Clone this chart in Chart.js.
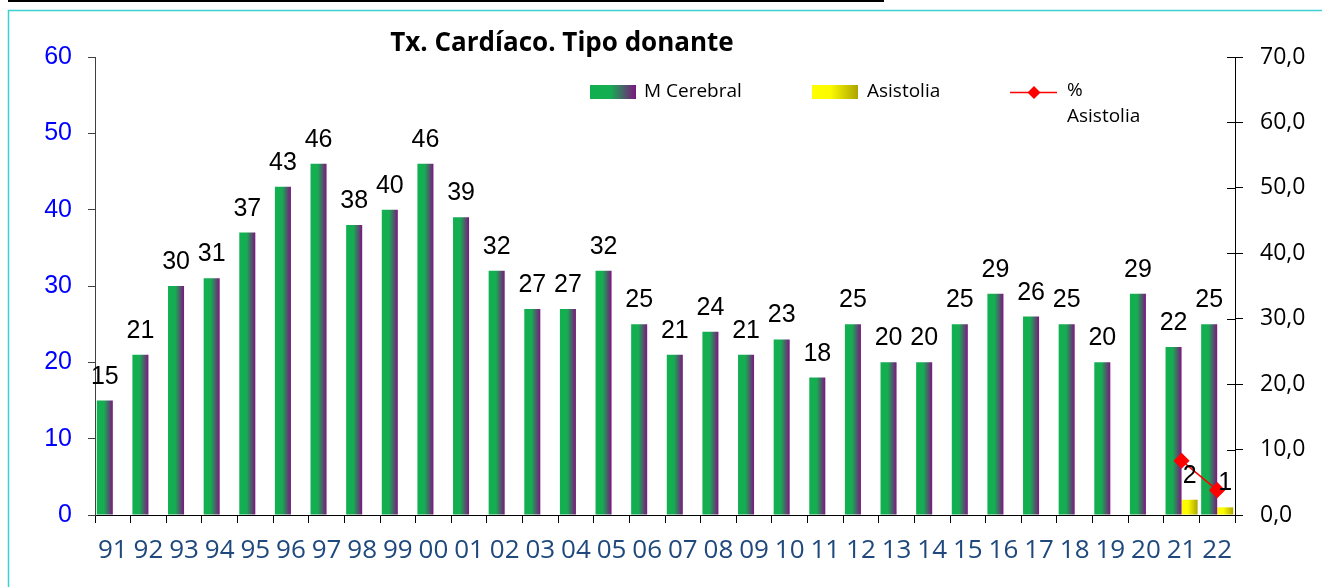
<!DOCTYPE html>
<html>
<head>
<meta charset="utf-8">
<script src="https://cdn.jsdelivr.net/npm/chart.js@4/dist/chart.umd.min.js"></script>
<style>
html,body{margin:0;padding:0;background:#fff;}
#wrap{width:1322px;height:587px;position:relative;}
</style>
</head>
<body>
<div id="wrap"><canvas id="c" width="1322" height="587"></canvas></div>
<script>
const years = ['91','92','93','94','95','96','97','98','99','00','01','02','03','04','05','06','07','08','09','10','11','12','13','14','15','16','17','18','19','20','21','22'];
const mCerebral = [15,21,30,31,37,43,46,38,40,46,39,32,27,27,32,25,21,24,21,23,18,25,20,20,25,29,26,25,20,29,22,25];
const asistolia = [null,null,null,null,null,null,null,null,null,null,null,null,null,null,null,null,null,null,null,null,null,null,null,null,null,null,null,null,null,null,2,1];
const pctAsistolia = [null,null,null,null,null,null,null,null,null,null,null,null,null,null,null,null,null,null,null,null,null,null,null,null,null,null,null,null,null,null,8.3,3.8];
const leftTicks = [0,10,20,30,40,50,60];
const rightTicks = [0,10,20,30,40,50,60,70];
const titleText = 'Tx. Cardíaco. Tipo donante';
const legendLabels = ['M Cerebral','Asistolia','%','Asistolia'];

const CAT_PCT = 0.9;
function barGradient(ctx, which, stops){
  const chart = ctx.chart;
  const xs = chart.scales.x;
  if (!xs || !chart.chartArea) return stops[0][1];
  const catW = xs.width / years.length;
  const c = xs.getPixelForValue(ctx.dataIndex);
  const half = catW * CAT_PCT / 2;
  const left = which === 0 ? c - half : c;
  const right = which === 0 ? c : c + half;
  const g = chart.ctx.createLinearGradient(left, 0, right, 0);
  stops.forEach(s => g.addColorStop(s[0], s[1]));
  return g;
}
const greenStops = [[0,'#10B050'],[0.45,'#16AD52'],[1,'#7D1580']];
const yellowStops = [[0,'#FFFF00'],[0.4,'#FCFA00'],[1,'#ADA400']];

const decorPlugin = {
  id: 'decor',
  beforeDraw(chart){
    const ctx = chart.ctx;
    ctx.save();
    ctx.fillStyle = '#fff';
    ctx.fillRect(0,0,chart.width,chart.height);
    ctx.strokeStyle = '#3DD0D0';
    ctx.lineWidth = 1.5;
    ctx.beginPath();
    ctx.moveTo(8.5, chart.height);
    ctx.lineTo(8.5, 10.5);
    ctx.lineTo(chart.width, 10.5);
    ctx.stroke();
    ctx.strokeStyle = '#000';
    ctx.lineWidth = 2;
    ctx.beginPath();
    ctx.moveTo(8, 1);
    ctx.lineTo(884, 1);
    ctx.stroke();
    ctx.restore();
  },
  afterDatasetsDraw(chart){
    const ctx = chart.ctx;
    ctx.save();
    // data labels
    ctx.fillStyle = '#000';
    ctx.font = '25px "Liberation Sans", Arial, sans-serif';
    ctx.textAlign = 'center';
    ctx.textBaseline = 'alphabetic';
    [0,1].forEach(di => {
      const meta = chart.getDatasetMeta(di);
      const data = chart.data.datasets[di].data;
      meta.data.forEach((el, i) => {
        if (data[i] === null || data[i] === undefined) return;
        ctx.fillText(String(data[i]), el.x, el.y - 17);
      });
    });
    // inner part of right-axis cross ticks
    const y1 = chart.scales.y1;
    ctx.strokeStyle = '#000';
    ctx.lineWidth = 1;
    rightTicks.forEach(v => {
      const py = Math.round(y1.getPixelForValue(v)) + 0.5;
      ctx.beginPath();
      ctx.moveTo(y1.left - 8, py);
      ctx.lineTo(y1.left, py);
      ctx.stroke();
    });
    // title
    ctx.font = 'bold 26px "Open Sans", sans-serif';
    ctx.textAlign = 'center';
    ctx.fillText(titleText, 562, 51);
    // legend
    ctx.font = '19px "Open Sans", sans-serif';
    ctx.textAlign = 'left';
    ctx.textBaseline = 'middle';
    let g = ctx.createLinearGradient(590, 0, 636, 0);
    greenStops.forEach(s => g.addColorStop(s[0], s[1]));
    ctx.fillStyle = g;
    ctx.fillRect(590, 85, 46, 14);
    ctx.fillStyle = '#000';
    ctx.fillText(legendLabels[0], 644, 92);
    g = ctx.createLinearGradient(812, 0, 858, 0);
    yellowStops.forEach(s => g.addColorStop(s[0], s[1]));
    ctx.fillStyle = g;
    ctx.fillRect(812, 85, 46, 14);
    ctx.fillStyle = '#000';
    ctx.fillText(legendLabels[1], 867, 92);
    ctx.strokeStyle = '#FF0000';
    ctx.lineWidth = 1.5;
    ctx.beginPath();
    ctx.moveTo(1010, 92.5);
    ctx.lineTo(1057, 92.5);
    ctx.stroke();
    ctx.fillStyle = '#FF0000';
    ctx.beginPath();
    ctx.moveTo(1034, 86);
    ctx.lineTo(1040.5, 92.5);
    ctx.lineTo(1034, 99);
    ctx.lineTo(1027.5, 92.5);
    ctx.closePath();
    ctx.fill();
    ctx.fillStyle = '#000';
    ctx.fillText(legendLabels[2], 1067, 91);
    ctx.fillText(legendLabels[3], 1067, 117);
    ctx.restore();
  }
};

new Chart(document.getElementById('c'), {
  data: {
    labels: years,
    datasets: [
      {
        type: 'bar',
        label: 'M Cerebral',
        data: mCerebral,
        yAxisID: 'y',
        order: 2,
        backgroundColor: ctx => barGradient(ctx, 0, greenStops),
        borderWidth: 0,
        categoryPercentage: CAT_PCT,
        barPercentage: 1.0
      },
      {
        type: 'bar',
        label: 'Asistolia',
        data: asistolia,
        yAxisID: 'y',
        order: 2,
        backgroundColor: ctx => barGradient(ctx, 1, yellowStops),
        borderWidth: 0,
        categoryPercentage: CAT_PCT,
        barPercentage: 1.0
      },
      {
        type: 'line',
        label: '% Asistolia',
        data: pctAsistolia,
        yAxisID: 'y1',
        order: 0,
        borderColor: '#FF0000',
        backgroundColor: '#FF0000',
        borderWidth: 1.5,
        pointStyle: 'rectRot',
        pointRadius: 7,
        pointHoverRadius: 7,
        spanGaps: false
      }
    ]
  },
  options: {
    responsive: false,
    animation: false,
    events: [],
    layout: { padding: { top: 57, left: 0, right: 0, bottom: 0 } },
    plugins: { legend: { display: false }, title: { display: false }, tooltip: { enabled: false } },
    scales: {
      x: {
        type: 'category',
        offset: true,
        afterFit: s => { s.height = 72; },
        border: { color: '#000', width: 1 },
        grid: { offset: true, drawOnChartArea: false, tickLength: 8, color: '#000' },
        ticks: { color: '#1F497D', font: { family: '"Open Sans", sans-serif', size: 26 }, padding: 12, maxRotation: 0, autoSkip: false }
      },
      y: {
        position: 'left',
        min: 0, max: 60,
        afterFit: s => { s.width = 95; },
        afterBuildTicks: s => { s.ticks = leftTicks.map(v => ({ value: v })); },
        border: { color: '#404040', width: 1 },
        grid: { drawOnChartArea: false, tickLength: 7, color: '#404040' },
        ticks: { color: '#0000FF', font: { family: '"Liberation Sans", Arial, sans-serif', size: 25 }, padding: 16 }
      },
      y1: {
        position: 'right',
        min: 0, max: 70,
        afterFit: s => { s.width = 87; },
        afterBuildTicks: s => { s.ticks = rightTicks.map(v => ({ value: v })); },
        border: { color: '#000', width: 1 },
        grid: { drawOnChartArea: false, tickLength: 8, color: '#000' },
        ticks: { color: '#000', font: { family: '"Open Sans", sans-serif', size: 23 }, padding: 17,
                 callback: v => v.toFixed(1).replace('.', ',') }
      }
    }
  },
  plugins: [decorPlugin]
});
</script>
</body>
</html>
